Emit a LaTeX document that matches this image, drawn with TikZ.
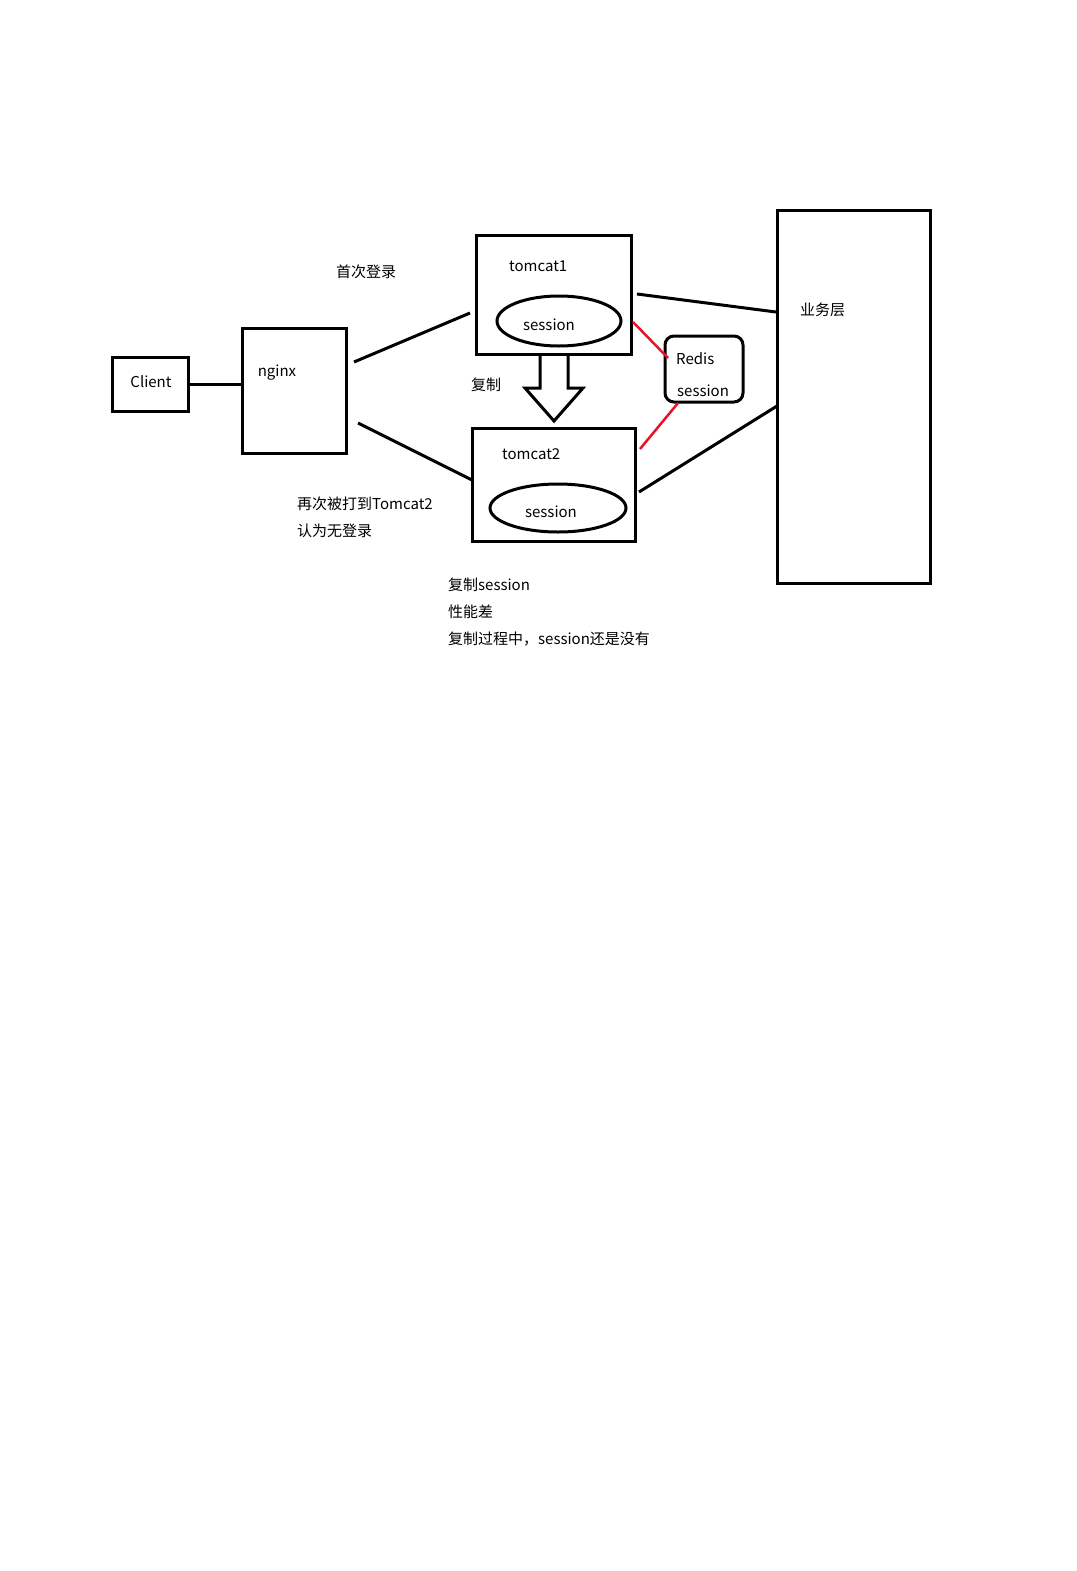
\documentclass[tikz,border=0pt]{standalone}
\usepackage{fontspec}
\setmainfont{Noto Sans CJK SC}
\usetikzlibrary{shapes.geometric}
\begin{document}
\begin{tikzpicture}[x=1pt,y=-1pt,
  box/.style={draw,line width=3pt,minimum width=#1,inner sep=0pt},
  lbl/.style={inner sep=0pt,font=\fontsize{15}{18}\selectfont,yshift=-2pt},
  ell/.style={draw,ellipse,line width=3pt,inner sep=0pt},
  wire/.style={line width=3pt},
  redwire/.style={line width=2.5pt,draw={rgb,255:red,230;green,20;blue,40}}]
\useasboundingbox[fill=white] (0,0) rectangle (1076,1571);
% boxes
\node[box=76pt,minimum height=54pt] (client) at (150,384) {};
\node[box=104pt,minimum height=125pt] (nginx) at (294,390.5) {};
\node[box=155pt,minimum height=119pt] (t1) at (553.5,294.5) {};
\node[box=163pt,minimum height=113pt] (t2) at (553.5,484.5) {};
\node[box=153pt,minimum height=373pt] (biz) at (853.5,396.5) {};
\node[draw,line width=3pt,rounded corners=9pt,minimum width=78pt,minimum height=66pt,inner sep=0pt] (redis) at (704,369) {};
\node[ell,minimum width=124pt,minimum height=50pt] (s1) at (559,321) {};
\node[ell,minimum width=136pt,minimum height=48pt] (s2) at (558,508) {};
% labels
\node[lbl] (clientl) at (151,380) {Client};
\node[lbl] (nginxl) at (277,371) {nginx};
\node[lbl,anchor=west] (t1l) at (509,264) {tomcat1};
\node[lbl,anchor=west] (t2l) at (502,452) {tomcat2};
\node[lbl] (s1l) at (549,323) {session};
\node[lbl] (s2l) at (551,510) {session};
\node[lbl,anchor=west] (redl) at (676,357) {Redis};
\node[lbl,anchor=west] (redsl) at (677,389) {session};
\node[lbl,anchor=west] (bizl) at (800,308) {业务层};
\node[lbl,anchor=west] (first) at (336,270) {首次登录};
\node[lbl,anchor=west] (copy) at (471,383) {复制};
\node[lbl,anchor=west] (again1) at (297,502) {再次被打到Tomcat2};
\node[lbl,anchor=west] (again2) at (297,529) {认为无登录};
\node[lbl,anchor=west] (note1) at (448,583) {复制session};
\node[lbl,anchor=west] (note2) at (448,610) {性能差};
\node[lbl,anchor=west] (note3) at (448,637) {复制过程中，session还是没有};
% connector end points
\coordinate (a1) at (354,362); \coordinate (a2) at (470,313);
\coordinate (b1) at (358,423); \coordinate (b2) at (472,480);
\coordinate (c1) at (637,294); \coordinate (c2) at (776,312);
\coordinate (d1) at (639,492); \coordinate (d2) at (777,406);
\coordinate (r1) at (633,322); \coordinate (r2) at (668,358);
\coordinate (r3) at (678,403); \coordinate (r4) at (640,449);
% connectors
\draw[wire] (client.east) -- (nginx.west |- client.east);
\draw[wire] (a1) -- (a2);
\draw[wire] (b1) -- (b2);
\draw[wire] (c1) -- (c2);
\draw[wire] (d1) -- (d2);
\draw[redwire] (r1) -- (r2);
\draw[redwire] (r3) -- (r4);
% hollow arrow
\draw[line width=3pt,line join=miter] (540,354) -- (540,388) -- (525,388) -- (554,421) -- (583,388) -- (568,388) -- (568,354);
\end{tikzpicture}
\end{document}
